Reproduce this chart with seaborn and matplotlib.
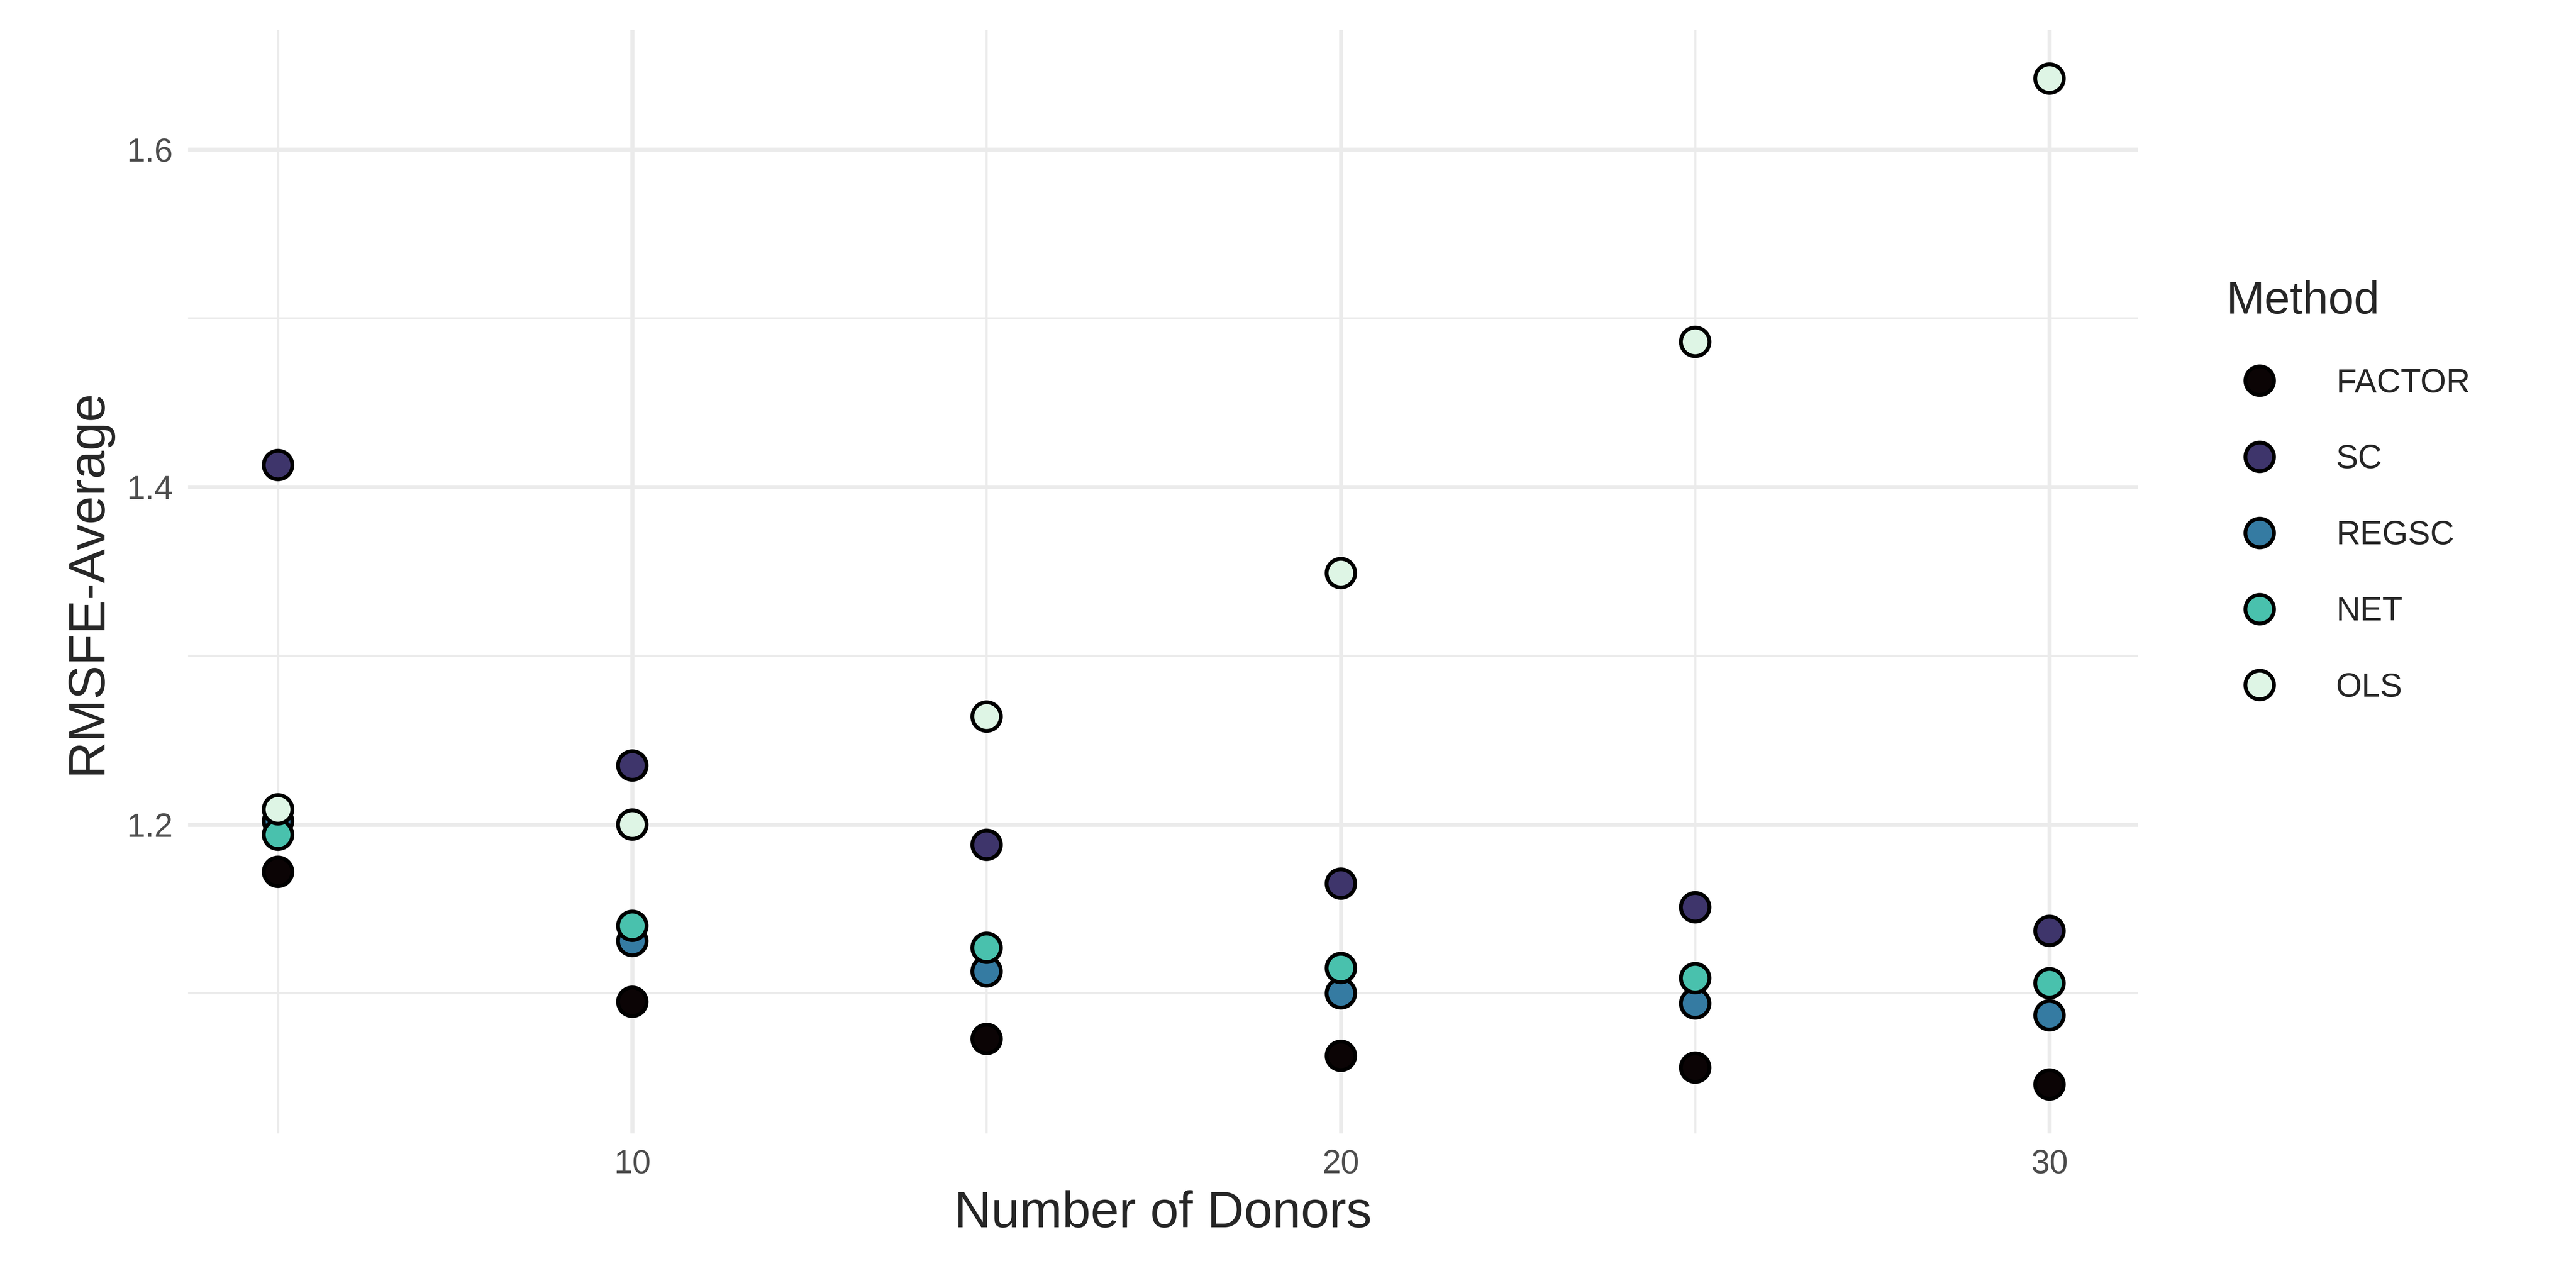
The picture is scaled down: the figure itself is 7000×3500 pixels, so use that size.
import pandas as pd
import matplotlib.pyplot as plt
import seaborn as sns

# Data
donors = [5, 10, 15, 20, 25, 30]
methods = ["FACTOR", "SC", "REGSC", "NET", "OLS"]
factor = [1.172, 1.095, 1.073, 1.063, 1.056, 1.046]
sc = [1.413, 1.235, 1.188, 1.165, 1.151, 1.137]
regsc = [1.202, 1.131, 1.113, 1.100, 1.094, 1.087]
net = [1.194, 1.140, 1.127, 1.115, 1.109, 1.106]
ols = [1.209, 1.200, 1.264, 1.349, 1.486, 1.642]
colors = ["#0b0405", "#3e356b", "#357ba2", "#49c1ad", "#def5e5"]

rows = []
for m, vals in zip(methods, [factor, sc, regsc, net, ols]):
    for d, v in zip(donors, vals):
        rows.append({"Number of Donors": d, "RMSFE-Average": v, "Method": m})
df = pd.DataFrame(rows)

sns.set_style("white")
plt.rcParams["font.family"] = ["Liberation Sans", "DejaVu Sans"]

fig = plt.figure(figsize=(14, 7), dpi=500)
ax = fig.add_axes([0.073, 0.12, 0.757, 0.857])

ax.set_xlim(3.73, 31.25)
ax.set_ylim(1.017, 1.671)
for x in [5, 15, 25]:
    ax.axvline(x, color="#ebebeb", lw=0.8, zorder=0)
for x in [10, 20, 30]:
    ax.axvline(x, color="#ebebeb", lw=1.6, zorder=0)
for y in [1.1, 1.3, 1.5]:
    ax.axhline(y, color="#ebebeb", lw=0.8, zorder=0)
for y in [1.2, 1.4, 1.6]:
    ax.axhline(y, color="#ebebeb", lw=1.6, zorder=0)

sns.scatterplot(data=df, x="Number of Donors", y="RMSFE-Average", hue="Method",
                hue_order=methods, palette=colors, s=125, edgecolor="black",
                linewidth=1.5, ax=ax, zorder=3)

ax.set_xticks([10, 20, 30])
ax.set_yticks([1.2, 1.4, 1.6])
ax.set_yticklabels(["1.2", "1.4", "1.6"])
ax.tick_params(axis="both", labelsize=13, colors="#4d4d4d", length=0, pad=6)
ax.set_xlabel("Number of Donors", fontsize=20, labelpad=4)
ax.set_ylabel("RMSFE-Average", fontsize=20, labelpad=6)
for s in ax.spines.values():
    s.set_visible(False)

leg = ax.legend(title="Method", loc="upper left", bbox_to_anchor=(1.03, 0.80),
                frameon=False, fontsize=13, title_fontsize=18, labelspacing=1.35,
                markerscale=1.0, handletextpad=1.3, alignment="left")

fig.savefig("out.png", dpi=500)
